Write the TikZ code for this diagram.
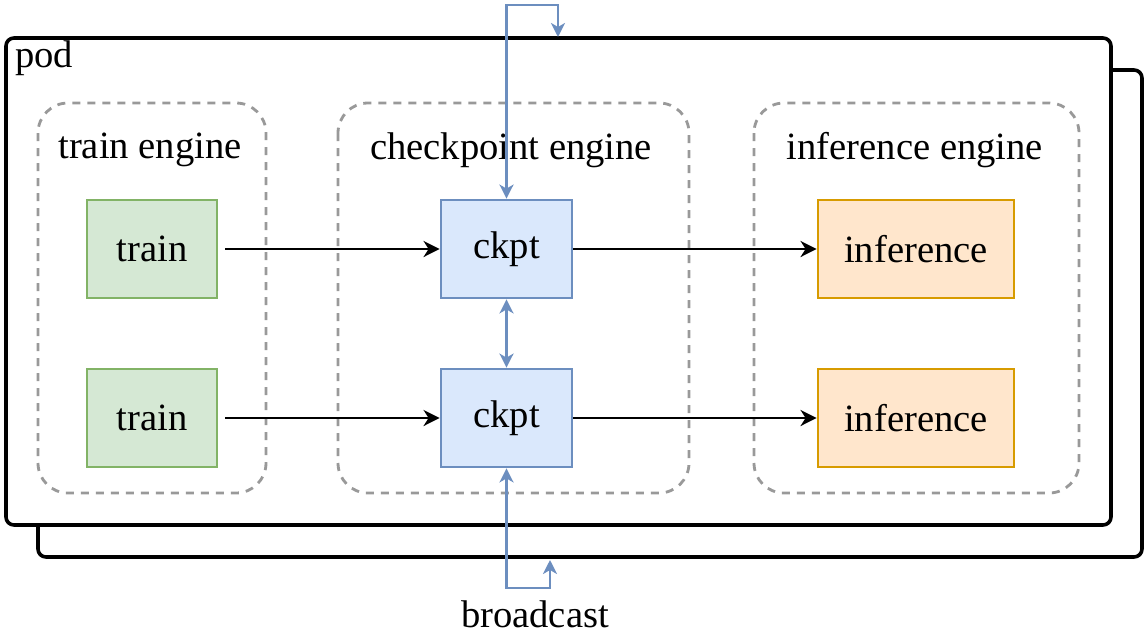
\documentclass[tikz,border=0pt]{standalone}
\usepackage{fontspec}
\setmainfont{Liberation Serif}
\usetikzlibrary{arrows.meta}
\definecolor{ckline}{HTML}{6C8EBF}
\definecolor{ckfill}{HTML}{DAE8FC}
\definecolor{trline}{HTML}{82B366}
\definecolor{trfill}{HTML}{D5E8D4}
\definecolor{infline}{HTML}{D79B00}
\definecolor{inffill}{HTML}{FFE6CC}
\definecolor{grpline}{HTML}{999999}
\tikzset{
  box/.style={draw,line width=1.4pt,minimum height=49pt,inner sep=0pt},
  trainbox/.style={box,draw=trline,fill=trfill,minimum width=65pt},
  ckptbox/.style={box,draw=ckline,fill=ckfill,minimum width=65.5pt},
  infbox/.style={box,draw=infline,fill=inffill,minimum width=98pt},
  pod/.style={draw,line width=1.8pt,fill=white,rounded corners=4pt},
  group/.style={draw=grpline,line width=1.4pt,dash pattern=on 4pt off 3.5pt,rounded corners=15pt},
  arr/.style={line width=1.4pt,-{Stealth[length=8pt,width=8pt,inset=2.5pt]}},
  bline/.style={draw=ckline,line width=1.4pt,{Stealth[length=7pt,width=7pt,inset=2pt]}-{Stealth[length=7pt,width=7pt,inset=2pt]}}
}
\begin{document}
\begin{tikzpicture}[x=0.5pt,y=-0.5pt,font=\fontsize{19.3}{23}\selectfont]
  \useasboundingbox (0,0) rectangle (1148,633);
  % pods
  \draw[pod] (38,70) rectangle (1142,557);
  \draw[pod] (6,38) rectangle (1111,525);
  \node[anchor=west,inner sep=0pt] (podlbl) at (15,58) {pod};
  % engines
  \draw[group] (38,103) rectangle (266,493);
  \draw[group] (338,103) rectangle (689,493);
  \draw[group] (754,103) rectangle (1079,493);
  \node (trlbl) at (150,150) {train engine};
  \node (cklbl) at (511,150) {checkpoint engine};
  \node (inflbl) at (915,150) {inference engine};
  % boxes
  \node[trainbox] (tr1) at (152,249) {train};
  \node[trainbox] (tr2) at (152,418) {train};
  \node[ckptbox] (ck1) at (506.5,249) {ckpt};
  \node[ckptbox] (ck2) at (506.5,418) {ckpt};
  \node[infbox] (inf1) at (916,249) {inference};
  \node[infbox] (inf2) at (916,418) {inference};
  \node (bc) at (535,614) {broadcast};
  % connectors
  \draw[arr] ([xshift=3.5pt]tr1.east) -- (ck1.west);
  \draw[arr] ([xshift=3.5pt]tr2.east) -- (ck2.west);
  \draw[arr] (ck1.east) -- (inf1.west);
  \draw[arr] (ck2.east) -- (inf2.west);
  \draw[bline] (ck1.south) -- (ck2.north);
  \coordinate (podtop) at (558,37);
  \coordinate (podbot) at (550,560);
  \draw[bline] (podtop) -- ++(0,-32) -| (ck1.north);
  \draw[bline] (podbot) -- ++(0,28) -| (ck2.south);
\end{tikzpicture}
\end{document}
